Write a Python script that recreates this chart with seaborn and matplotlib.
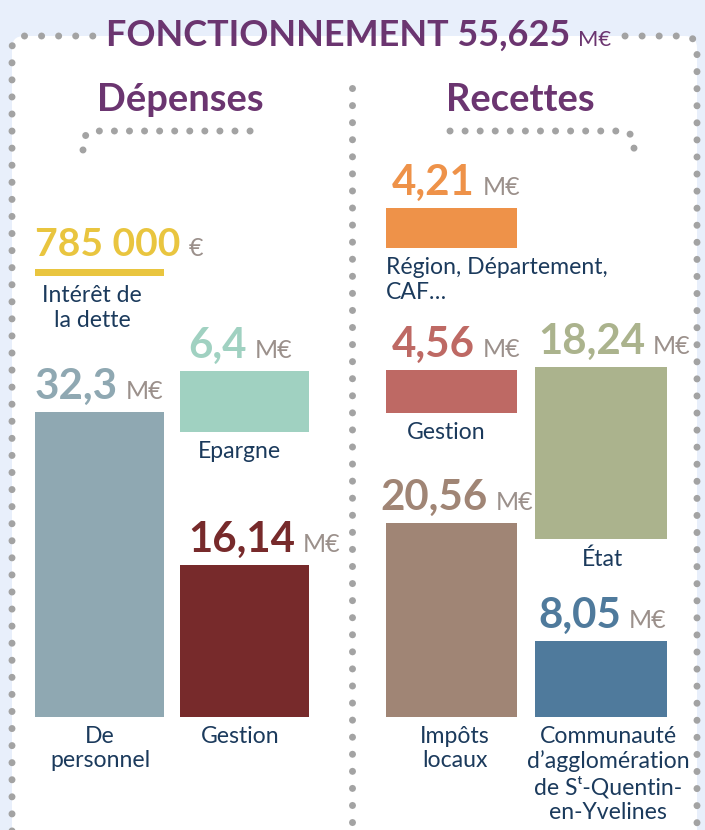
import numpy as np
import matplotlib
matplotlib.use("Agg")
import matplotlib.pyplot as plt
from matplotlib import font_manager
from matplotlib.patches import FancyBboxPatch
import seaborn as sns

# Données (M€)
total_txt = "55,625"

dep_labels = ["De\npersonnel", "Intérêt de\nla dette", "Gestion", "Epargne"]
dep_values = [32.3, 0.785, 16.14, 6.4]
dep_texts = ["32,3", "785 000", "16,14", "6,4"]
dep_units = ["M€", "€", "M€", "M€"]
dep_colors = ["#8fa8b2", "#e9c53f", "#772a2b", "#a0d1c1"]

rec_labels = ["Impôts\nlocaux", "Gestion", "Région, Département,\nCAF…",
              "Communauté\nd’agglomération\nde Sᵗ-Quentin-\nen-Yvelines", "État"]
rec_values = [20.56, 4.56, 4.21, 8.05, 18.24]
rec_texts = ["20,56", "4,56", "4,21", "8,05", "18,24"]
rec_units = ["M€", "M€", "M€", "M€", "M€"]
rec_colors = ["#a08575", "#be6964", "#ee9249", "#4f7a9c", "#abb38d"]

# Mise en page (pixels / écarts en M€)
cols = [(35, 129), (180, 129), (386, 131), (535, 132)]
dep_col = [0, 0, 1, 1]
dep_gap = [0, 14.4, 0, 14.1]
dep_dx = [0, 0, 8, 8]
dep_lx = [100, 92, 240, 239]
rec_col = [2, 2, 2, 3, 3]
rec_gap = [0, 11.65, 12.9, 0, 10.8]
rec_dx = [-6, 6, 6, 3, 3]
rec_lx = [455, 446, 386, 608, 602]

purple = "#6b3570"
navy = "#1b3a5c"
grey_txt = "#9b908b"
dot_c = "#a3a3a3"
light_bg = "#e8effb"

sns.set_theme(style="white")
plt.rcParams["font.family"] = ["Lato", "DejaVu Sans"]

names = {f.name for f in font_manager.fontManager.ttflist}
if "Liberation Sans Narrow" in names:
    title_fam, title_size = ["Liberation Sans Narrow", "DejaVu Sans"], 41
else:
    title_fam, title_size = ["Lato", "DejaVu Sans"], 36

W, H = 705, 830
fig = plt.figure(figsize=(W / 72, H / 72), dpi=72, facecolor=light_bg)

# fond + décor en pixels
bg = fig.add_axes([0, 0, 1, 1], zorder=0)
bg.set_xlim(0, W)
bg.set_ylim(H, 0)
bg.axis("off")
bg.add_patch(FancyBboxPatch((12, 36), 685, 900, boxstyle="round,pad=0,rounding_size=12",
                            fc="white", ec="none"))

def dotted(xs, ys, gap=17):
    bg.plot(xs, ys, color=dot_c, lw=7, linestyle=(0, (0.01, gap / 7)),
            dash_capstyle="round", solid_capstyle="round")

t = np.linspace(0, np.pi / 2, 10)
# bordure gauche + haut
xs = np.concatenate([[12], 24 - 12 * np.cos(t), [97]])
ys = np.concatenate([[835], 48 - 12 * np.sin(t), [36]])
dotted(xs, ys)
xs = np.concatenate([[625], 685 + 12 * np.sin(t), [697]])
ys = np.concatenate([[36], 48 - 12 * np.cos(t), [835]])
dotted(xs, ys)
# séparateur
dotted([352, 352], [88, 835])
# accolades
xs = np.concatenate([[83], 95 - 12 * np.cos(t), [262]])
ys = np.concatenate([[150], 143 - 12 * np.sin(t), [131]])
dotted(xs, ys, 15)
xs = np.concatenate([[450], 622 + 12 * np.sin(t), [634]])
ys = np.concatenate([[131], 143 - 12 * np.cos(t), [150]])
dotted(xs, ys, 15)

# titres
ttl = bg.text(106, 46, "FONCTIONNEMENT " + total_txt, fontsize=title_size, fontweight="bold",
              color=purple, va="baseline", ha="left", family=title_fam)
bg.annotate("M€", xy=(1, 46), xycoords=(ttl, "data"), xytext=(8, 0), textcoords="offset points",
            fontsize=22, color=purple, va="baseline", ha="left")
bg.text(180, 111, "Dépenses", fontsize=38, fontweight="bold", color=purple, ha="center", va="baseline")
bg.text(520, 111, "Recettes", fontsize=38, fontweight="bold", color=purple, ha="center", va="baseline")

# barres en M€
ppm, base = 9.44, 717
ax = fig.add_axes([0, 0, 1, 1], zorder=1)
ax.patch.set_alpha(0)
ax.set_xlim(0, W)
ax.set_ylim(-(H - base) / ppm, base / ppm)
ax.axis("off")

col_top = {}

def draw(labels, values, texts, units, colors, ci, gaps, dxs, lxs):
    for lab, v, txt, u, c, k, g, dx, lx in zip(labels, values, texts, units, colors, ci, gaps, dxs, lxs):
        left, w = cols[k]
        b = col_top.get(k, 0) + g if g else 0
        ax.bar(left + w / 2, v, width=w, bottom=b, color=c, linewidth=0)
        col_top[k] = b + v
        size = 39 if u == "€" else 42
        num = ax.annotate(txt, xy=(left + dx, b + v), xytext=(0, 13), textcoords="offset points",
                          ha="left", va="baseline", fontsize=size, fontweight="bold", color=c)
        ax.annotate(u, xy=(1, b + v), xycoords=(num, "data"), xytext=(8, 13),
                    textcoords="offset points", ha="left", va="baseline", fontsize=25, color=grey_txt)
        ha = "left" if lx == left else "center"
        ax.annotate(lab, xy=(lx, b), xytext=(0, -9), textcoords="offset points", ha=ha, va="top",
                    multialignment=ha, fontsize=23, color=navy, linespacing=1.2)

draw(dep_labels, dep_values, dep_texts, dep_units, dep_colors, dep_col, dep_gap, dep_dx, dep_lx)
draw(rec_labels, rec_values, rec_texts, rec_units, rec_colors, rec_col, rec_gap, rec_dx, rec_lx)

fig.savefig("out.png", dpi=72, facecolor=light_bg)
